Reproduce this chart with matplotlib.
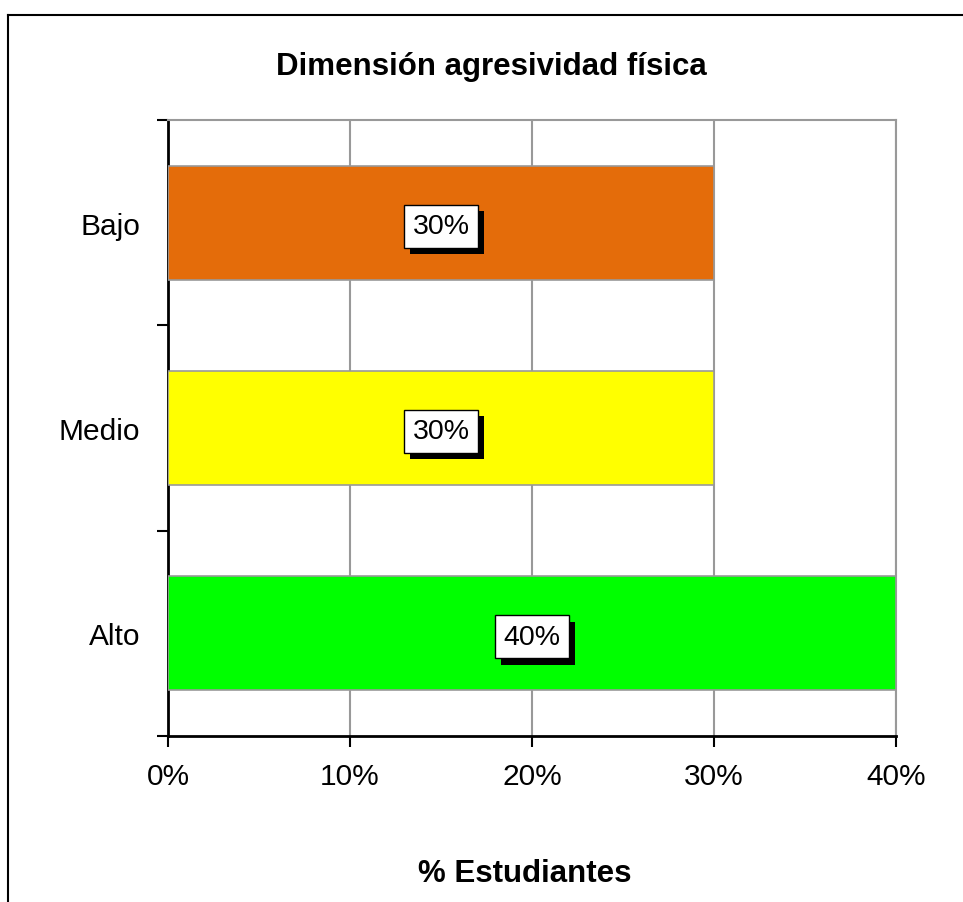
import matplotlib
matplotlib.use("Agg")
import matplotlib.pyplot as plt
import matplotlib.patheffects as pe
from matplotlib.lines import Line2D
from matplotlib.ticker import PercentFormatter

plt.rcParams['font.family'] = ['Liberation Sans', 'DejaVu Sans']

categories = ["Alto", "Medio", "Bajo"]
values = [40, 30, 30]
colors = ["#00FF00", "#FFFF00", "#E46C0A"]
x_ticks = [0, 10, 20, 30, 40]

W, H = 963, 903
fig = plt.figure(figsize=(W / 100, H / 100), dpi=100)
ax = fig.add_axes([168 / W, 1 - 737 / H, (896 - 168) / W, (737 - 121) / H])

pos = list(range(len(categories)))
ax.barh(pos, values, height=0.555, color=colors, edgecolor="#999999", linewidth=1.2, zorder=3)

ax.set_xlim(0, 40)
ax.set_ylim(-0.5, len(categories) - 0.5)
ax.set_xticks(x_ticks)
ax.xaxis.set_major_formatter(PercentFormatter(decimals=0))
ax.set_yticks(pos)
ax.set_yticklabels(categories)
ax.set_yticks([p - 0.5 for p in pos] + [len(pos) - 0.5], minor=True)
ax.tick_params(axis="y", which="major", length=0, pad=20, labelsize=21.5)
ax.tick_params(axis="y", which="minor", length=8, width=1.5, direction="out")
ax.tick_params(axis="x", which="major", length=8, width=1.5, direction="out", pad=11, labelsize=21.5)

ax.grid(axis="x", color="#999999", linewidth=1.5, zorder=0)
for side in ("top", "right"):
    ax.spines[side].set_color("#999999")
    ax.spines[side].set_linewidth(1.5)
for side in ("left", "bottom"):
    ax.spines[side].set_color("black")
    ax.spines[side].set_linewidth(2)

shadow = [pe.withSimplePatchShadow(offset=(4.5, -4.5), shadow_rgbFace="black", alpha=1.0)]
for p, v in zip(pos, values):
    ax.annotate(f"{v}%", (v / 2, p), xytext=(0, -2.5), textcoords="offset points",
                ha="center", va="center", fontsize=20.5, color="black", zorder=5,
                bbox=dict(boxstyle="square,pad=0.3", facecolor="white", edgecolor="black",
                          linewidth=1, path_effects=shadow))

fig.text(491 / W, 1 - 67 / H, "Dimensión agresividad física", ha="center", va="center",
         fontsize=22.5, fontweight="bold")
fig.text(525 / W, 1 - 874 / H, "% Estudiantes", ha="center", va="center",
         fontsize=22.5, fontweight="bold")

# outer chart frame
fig.add_artist(Line2D([8 / W, 8 / W], [0, 1 - 16 / H], color="black", linewidth=1.5, transform=fig.transFigure))
fig.add_artist(Line2D([8 / W, 1], [1 - 16 / H, 1 - 16 / H], color="black", linewidth=1.5, transform=fig.transFigure))

fig.savefig("out.png", dpi=100)
